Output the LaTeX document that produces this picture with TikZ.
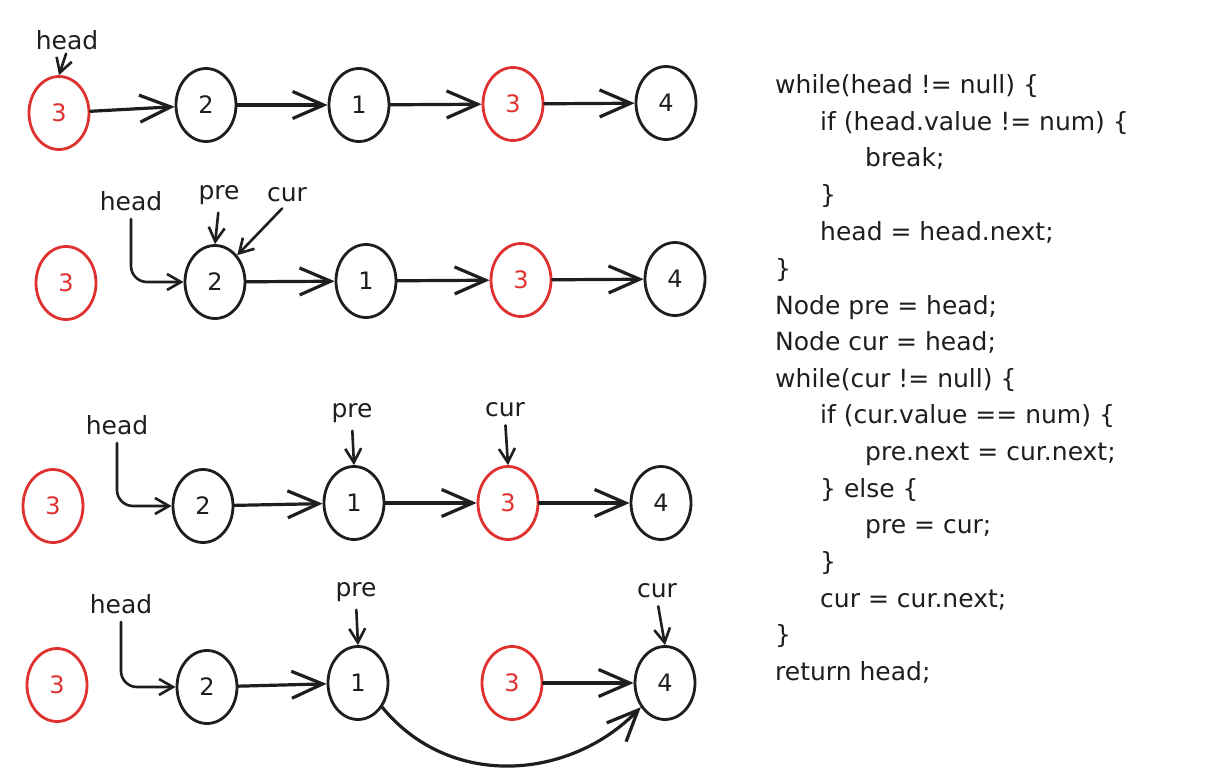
\documentclass[tikz,border=0pt]{standalone}
\usepackage{fontspec}
\setmainfont{DejaVu Sans}
\usetikzlibrary{shapes.geometric,arrows.meta}
\definecolor{ink}{HTML}{1E1E1E}
\definecolor{redink}{HTML}{E03131}
\begin{document}
\begin{tikzpicture}[x=1pt,y=-1pt,
  nd/.style={ellipse,draw=ink,line width=2.8pt,minimum width=60pt,minimum height=73pt,inner sep=0pt,text=ink,font=\fontsize{24}{24}\selectfont},
  rd/.style={nd,draw=redink,text=redink},
  arr/.style={draw=ink,line width=3.2pt,line cap=round,-{Straight Barb[length=31pt,width=27pt]}},
  ptr/.style={draw=ink,line width=2.6pt,line cap=round,rounded corners=16pt,shorten <=7pt,-{Straight Barb[length=14pt,width=16pt]}},
  lbl/.style={text=ink,font=\fontsize{25}{25}\selectfont,inner sep=1pt},
  code/.style={anchor=base west,text=ink,font=\fontsize{25}{25}\selectfont,inner sep=0pt}]
\fill[white] (0,0) rectangle (1208,784);
\useasboundingbox (0,0) rectangle (1208,784);

% Row 1
\node[rd] (a3) at (59,113) {3};
\node[nd] (a2) at (206,105) {2};
\node[nd] (a1) at (359,105) {1};
\node[rd] (a3b) at (513,104) {3};
\node[nd] (a4) at (666,103) {4};
\node[lbl] (ah) at (67,40) {head};
\draw[ptr,shorten <=3pt] (ah.south) -- (a3.north);
\draw[arr] (a3) -- (a2);
\draw[arr] (a2) -- (a1);
\draw[arr] (a1) -- (a3b);
\draw[arr] (a3b) -- (a4);

% Row 2
\node[rd] (b3) at (66,283) {3};
\node[nd] (b2) at (215,282) {2};
\node[nd] (b1) at (366,281) {1};
\node[rd] (b3b) at (521,280) {3};
\node[nd] (b4) at (675,279) {4};
\node[lbl] (bh) at (131,201) {head};
\node[lbl] (bp) at (219,195) {pre};
\node[lbl] (bc) at (287,195) {cur};
\draw[ptr] (bh.south) |- (b2.west);
\draw[ptr] (bp.south) -- (b2.north);
\draw[ptr] (bc.south) -- (b2.north east);
\draw[arr] (b2) -- (b1);
\draw[arr] (b1) -- (b3b);
\draw[arr] (b3b) -- (b4);

% Row 3
\node[rd] (c3) at (53,506) {3};
\node[nd] (c2) at (203,506) {2};
\node[nd] (c1) at (354,503) {1};
\node[rd] (c3b) at (508,503) {3};
\node[nd] (c4) at (661,503) {4};
\node[lbl] (ch) at (117,425) {head};
\node[lbl] (cp) at (352,413) {pre};
\node[lbl] (cc) at (505,410) {cur};
\draw[ptr] (ch.south) |- (c2.west);
\draw[ptr] (cp.south) -- (c1.north);
\draw[ptr] (cc.south) -- (c3b.north);
\draw[arr] (c2) -- (c1);
\draw[arr] (c1) -- (c3b);
\draw[arr] (c3b) -- (c4);

% Row 4
\node[rd] (d3) at (57,685) {3};
\node[nd] (d2) at (207,687) {2};
\node[nd] (d1) at (358,683) {1};
\node[rd] (d3b) at (512,683) {3};
\node[nd] (d4) at (665,683) {4};
\node[lbl] (dh) at (121,604) {head};
\node[lbl] (dp) at (356,592) {pre};
\node[lbl] (dc) at (657,591) {cur};
\draw[ptr] (dh.south) |- (d2.west);
\draw[ptr] (dp.south) -- (d1.north);
\draw[ptr] (dc.south) -- (d4.north);
\draw[arr] (d2) -- (d1);
\draw[arr] (d3b) -- (d4);
\draw[arr] (d1.-45) .. controls (450,790) and (570,780) .. (d4.-135);

% Code
\node[code] (k1) at (775,93) {while(head != null) \{};
\node[code] (k2) at (820,130) {if (head.value != num) \{};
\node[code] (k3) at (865,166) {break;};
\node[code] (k4) at (820,203) {\}};
\node[code] (k5) at (820,240) {head = head.next;};
\node[code] (k6) at (775,277) {\}};
\node[code] (k7) at (775,314) {Node pre = head;};
\node[code] (k8) at (775,350) {Node cur = head;};
\node[code] (k9) at (775,387) {while(cur != null) \{};
\node[code] (k10) at (820,423) {if (cur.value == num) \{};
\node[code] (k11) at (865,460) {pre.next = cur.next;};
\node[code] (k12) at (820,497) {\} else \{};
\node[code] (k13) at (865,533) {pre = cur;};
\node[code] (k14) at (820,570) {\}};
\node[code] (k15) at (820,607) {cur = cur.next;};
\node[code] (k16) at (775,643) {\}};
\node[code] (k17) at (775,680) {return head;};
\end{tikzpicture}
\end{document}
